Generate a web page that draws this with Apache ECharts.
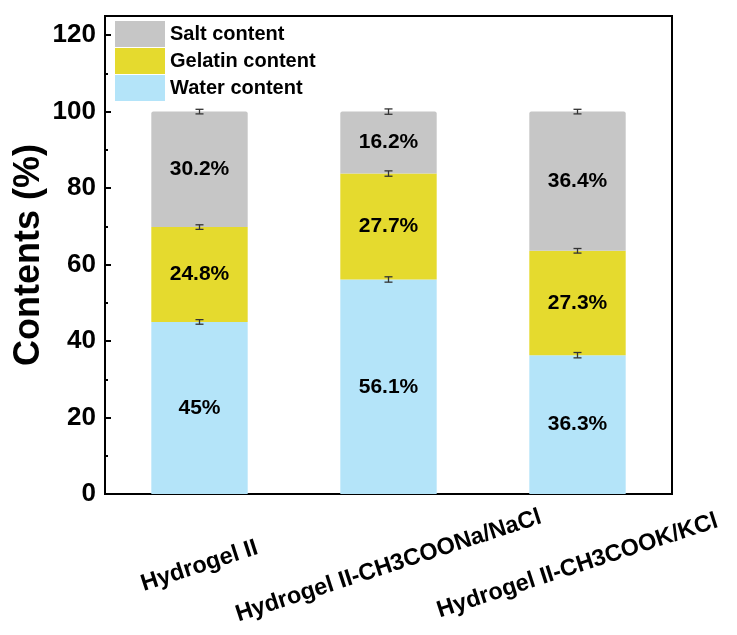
<!DOCTYPE html>
<html>
<head>
<meta charset="utf-8">
<script src="https://cdn.jsdelivr.net/npm/echarts@6/dist/echarts.min.js"></script>
<style>
  html, body { margin: 0; padding: 0; background: #fff; }
  #chart { width: 737px; height: 635px; }
</style>
</head>
<body>
<div id="chart"></div>
<script>
// Sample groups
const categories = ['Hydrogel II', 'Hydrogel II-CH3COONa/NaCl', 'Hydrogel II-CH3COOK/KCl'];

// Composition (%) of each sample, stacked bottom to top
const waterContent   = [45, 56.1, 36.3];
const gelatinContent = [24.8, 27.7, 27.3];
const saltContent    = [30.2, 16.2, 36.4];

// Standard deviations shown at the top of each stacked segment
const waterErr   = [0.6, 0.7, 0.7];
const gelatinErr = [0.6, 0.7, 0.6];
const saltErr    = [0.6, 0.7, 0.6];

// Y-axis ticks
const yTicks = { min: 0, max: 125, interval: 20 };

const FONT = 'Liberation Sans, Arial, sans-serif';
const COLORS = { water: '#b4e4f9', gelatin: '#e5da2e', salt: '#c6c6c6' };

// Error bars sit at the cumulative top of each segment
function errorPoints(bases, vals, errs) {
  return vals.map((v, i) => [i, bases[i] + v, errs[i]]);
}
const zeros = categories.map(() => 0);
const waterTop = waterContent.map((v, i) => v);
const gelatinTop = gelatinContent.map((v, i) => waterTop[i] + v);
const errData = []
  .concat(errorPoints(zeros, waterContent, waterErr))
  .concat(errorPoints(waterTop, gelatinContent, gelatinErr))
  .concat(errorPoints(gelatinTop, saltContent, saltErr));

const barLabel = {
  show: true,
  position: 'inside',
  formatter: p => p.value + '%',
  color: '#000',
  fontFamily: FONT,
  fontWeight: 'bold',
  fontSize: 21
};

const chart = echarts.init(document.getElementById('chart'), null, { renderer: 'canvas' });
chart.setOption({
  animation: false,
  backgroundColor: '#fff',
  grid: {
    left: 105, right: 65, top: 16, bottom: 141,
    show: true, borderColor: '#000', borderWidth: 2, backgroundColor: 'transparent'
  },
  legend: {
    orient: 'vertical',
    left: 115, top: 21,
    padding: 0,
    itemWidth: 50, itemHeight: 26, itemGap: 1,
    icon: 'rect',
    data: ['Salt content', 'Gelatin content', 'Water content'],
    textStyle: { fontFamily: FONT, fontWeight: 'bold', fontSize: 20, color: '#000' }
  },
  xAxis: {
    type: 'category',
    data: categories,
    axisLine: { show: true, lineStyle: { color: '#000', width: 2 } },
    axisTick: { show: true, inside: true, alignWithLabel: true, length: 5, lineStyle: { color: '#000', width: 2 } },
    axisLabel: {
      interval: 0,
      rotate: 18,
      align: 'center',
      verticalAlign: 'middle',
      margin: 72,
      color: '#000',
      fontFamily: FONT,
      fontWeight: 'bold',
      fontSize: 23.5
    },
    splitLine: { show: false }
  },
  yAxis: {
    type: 'value',
    min: yTicks.min, max: yTicks.max, interval: yTicks.interval,
    name: 'Contents (%)',
    nameLocation: 'middle',
    nameGap: 58,
    nameMoveOverlap: false,
    nameTextStyle: { fontFamily: FONT, fontWeight: 'bold', fontSize: 36, color: '#000' },
    axisLine: { show: true, lineStyle: { color: '#000', width: 2 } },
    axisTick: { show: true, inside: true, length: 6, lineStyle: { color: '#000', width: 2 } },
    minorTick: { show: true, splitNumber: 2, length: 3, lineStyle: { color: '#000', width: 2 } },
    axisLabel: {
      showMaxLabel: false,
      margin: 9,
      color: '#000',
      fontFamily: FONT,
      fontWeight: 'bold',
      fontSize: 26
    },
    splitLine: { show: false }
  },
  series: [
    {
      name: 'Water content', type: 'bar', stack: 'total', barWidth: '51%',
      itemStyle: { color: COLORS.water },
      label: barLabel,
      data: waterContent
    },
    {
      name: 'Gelatin content', type: 'bar', stack: 'total',
      itemStyle: { color: COLORS.gelatin },
      label: barLabel,
      data: gelatinContent
    },
    {
      name: 'Salt content', type: 'bar', stack: 'total',
      itemStyle: { color: COLORS.salt, borderRadius: [2, 2, 0, 0] },
      label: barLabel,
      data: saltContent
    },
    {
      name: 'error', type: 'custom', z: 5,
      encode: { x: 0, y: 1 },
      data: errData,
      renderItem: function (params, api) {
        const idx = api.value(0);
        const y = api.value(1);
        const e = api.value(2);
        const hi = api.coord([idx, y + e]);
        const lo = api.coord([idx, y - e]);
        const hw = 4;
        const style = { stroke: '#333', lineWidth: 1.3 };
        return {
          type: 'group',
          children: [
            { type: 'line', shape: { x1: hi[0], y1: hi[1], x2: lo[0], y2: lo[1] }, style },
            { type: 'line', shape: { x1: hi[0] - hw, y1: hi[1], x2: hi[0] + hw, y2: hi[1] }, style },
            { type: 'line', shape: { x1: lo[0] - hw, y1: lo[1], x2: lo[0] + hw, y2: lo[1] }, style }
          ]
        };
      }
    }
  ]
});
</script>
</body>
</html>
